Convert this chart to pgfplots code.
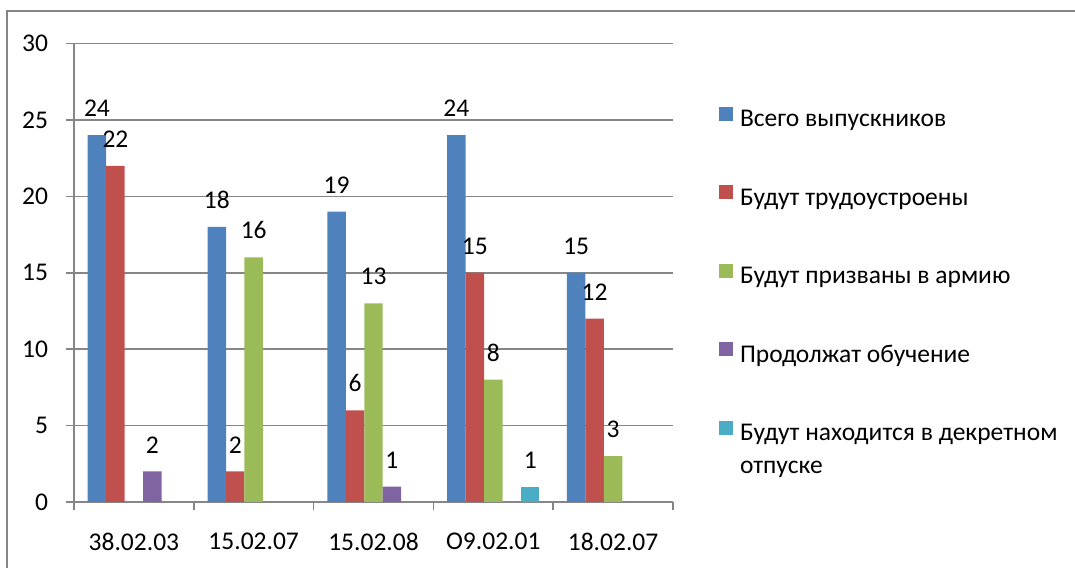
\documentclass[border=0pt]{standalone}
\usepackage{fontspec}
\setmainfont{Carlito}
\usepackage{pgfplots}
\pgfplotsset{compat=1.18}

\definecolor{s1}{HTML}{4F81BD}
\definecolor{s2}{HTML}{C0504D}
\definecolor{s3}{HTML}{9BBB59}
\definecolor{s4}{HTML}{8064A2}
\definecolor{s5}{HTML}{4BACC6}
\definecolor{linegray}{HTML}{868686}

\pgfplotsset{sqleg/.style={legend image code/.code={%
  \fill[##1,draw=none] (0bp,0bp) rectangle (7bp,7bp);}}}

\begin{document}
\fontsize{12.8}{15}\selectfont
\begin{tikzpicture}
\useasboundingbox (-37bp,-33bp) rectangle (500.5bp,251bp);
% chart area frame (cut by the page edge)
\draw[linegray, line width=1bp] (-33.5bp,-40bp) -- (-33.5bp,245.5bp) -- (520bp,245.5bp);
\begin{axis}[
    scale only axis,
    width=299.5bp, height=229.25bp,
    ybar=0pt, bar width=9.23bp,
    xmin=-0.5, xmax=4.5, ymin=0, ymax=30,
    xtick={-0.5,0.5,...,4.5},
    x tick label as interval,
    xticklabels={38.02.03,15.02.07,15.02.08,O9.02.01,18.02.07},
    xticklabel style={yshift=-7bp},
    ytick={0,5,...,30},
    yticklabel style={xshift=-4.5bp},
    axis x line*=bottom, axis y line*=left,
    axis line style={linegray, line width=0.8bp, -},
    tick align=outside,
    major tick length=4bp,
    tick style={linegray, line width=0.8bp},
    ymajorgrids,
    grid style={linegray, line width=0.8bp},
    /pgf/number format/assume math mode=true,
    nodes near coords,
    every node near coord/.append style={text=black, anchor=south, inner sep=0pt, yshift=9bp},
    legend style={at={(1.0768,0.8617)}, anchor=north west, draw=none, fill=none,
        inner sep=0pt, outer sep=0pt, row sep=27.2bp, column sep=3.5bp,
        nodes={inner sep=0pt, text height=8bp, text depth=2bp}},
    legend cell align=left,
  ]
  \addplot[fill=s1, draw=none, sqleg] coordinates {(0,24) (1,18) (2,19) (3,24) (4,15)};
  \addplot[fill=s2, draw=none, sqleg] coordinates {(0,22) (1,2) (2,6) (3,15) (4,12)};
  \addplot[fill=s3, draw=none, sqleg] coordinates {(1,16) (2,13) (3,8) (4,3)};
  \addplot[fill=s4, draw=none, sqleg] coordinates {(0,2) (2,1)};
  \addplot[fill=s5, draw=none, sqleg] coordinates {(3,1)};
  \legend{Всего выпускников, Будут трудоустроены, Будут призваны в армию, Продолжат обучение,
    {\parbox[t]{175bp}{\baselineskip=16.5bp Будут находится в декретном\\отпуске}}}
\end{axis}
\end{tikzpicture}
\end{document}
